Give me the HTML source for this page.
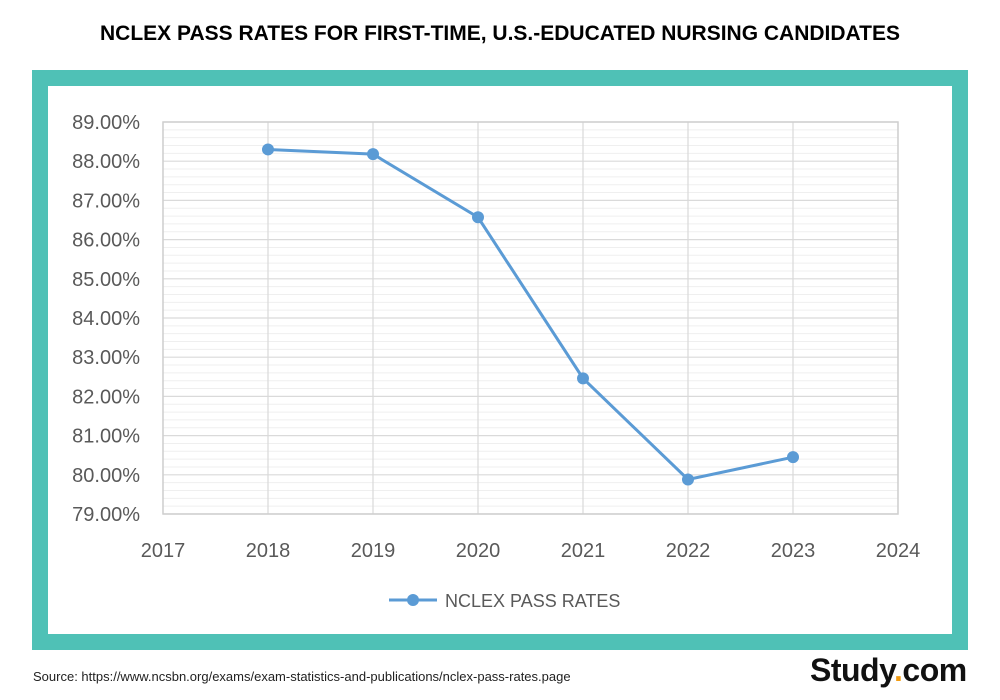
<!DOCTYPE html>
<html><head><meta charset="utf-8"><style>
body{margin:0;width:1000px;height:700px;background:#fff;font-family:"Liberation Sans",sans-serif;position:relative;overflow:hidden}
#title{position:absolute;top:22px;left:0;width:1000px;text-align:center;font-weight:bold;font-size:21px;color:#000}
#frame{position:absolute;left:32px;top:70px;width:904px;height:548px;border:16px solid #4fc1b6;background:#fff}
#src{position:absolute;left:33px;top:669px;font-size:13px;color:#222}
#logo{position:absolute;left:810px;top:652px;font-size:32px;font-weight:bold;color:#111;letter-spacing:-0.5px}
</style></head><body>
<div id="title">NCLEX PASS RATES FOR FIRST-TIME, U.S.-EDUCATED NURSING CANDIDATES</div>
<div id="frame"></div>
<svg id="chart" width="1000" height="700" style="position:absolute;left:0;top:0"></svg>
<div id="src">Source: https://www.ncsbn.org/exams/exam-statistics-and-publications/nclex-pass-rates.page</div>
<div id="logo">Study<span style="color:#f39c12">.</span>com</div>
<script>
const years=[2018,2019,2020,2021,2022,2023];
const rates=[88.3,88.18,86.57,82.46,79.88,80.45];
const yTicks=[79,80,81,82,83,84,85,86,87,88,89];
const xTicks=[2017,2018,2019,2020,2021,2022,2023,2024];
const NS='http://www.w3.org/2000/svg';
const svg=document.getElementById('chart');
const L=163,R=898,T=122,B=514;
const xs=v=>L+(v-2017)/(2024-2017)*(R-L);
const ys=v=>B-(v-79)/(89-79)*(B-T);
function mk(t,a,p){const e=document.createElementNS(NS,t);for(const k in a)e.setAttribute(k,a[k]);(p||svg).appendChild(e);return e;}
for(let k=0;k<=50;k++){const v=79+k*0.2;if(k%5===0)continue;const y=ys(v);
const g=mk('line',{x1:L,x2:R,y1:y,y2:y,stroke:'#efefef','stroke-width':1});

}
yTicks.forEach(v=>{const y=ys(v);
const g=mk('line',{x1:L,x2:R,y1:y,y2:y,stroke:'#dadada','stroke-width':1.2});

});
xTicks.forEach(v=>{const x=xs(v);
const g=mk('line',{x1:x,x2:x,y1:T,y2:B,stroke:'#d9d9d9','stroke-width':1.2});


const t=mk('text',{x:x,y:557,'text-anchor':'middle','font-size':20,fill:'#595959','font-family':'Liberation Sans, sans-serif'});t.textContent=String(v);

});
mk('rect',{x:L,y:T,width:R-L,height:B-T,fill:'none',stroke:'#cfcfcf','stroke-width':1.5});
yTicks.forEach(v=>{const t=mk('text',{x:140,y:ys(v)+7,'text-anchor':'end','font-size':20,fill:'#595959','font-family':'Liberation Sans, sans-serif'});t.textContent=v.toFixed(2)+'%';

});
const pl=mk('polyline',{points:years.map((y,i)=>xs(y)+','+ys(rates[i])).join(' '),fill:'none',stroke:'#5b9bd5','stroke-width':3});


years.forEach((y,i)=>{const c=mk('circle',{cx:xs(y),cy:ys(rates[i]),r:6,fill:'#5b9bd5'});

});
const lg=mk('g',{});


mk('line',{x1:389,x2:437,y1:600,y2:600,stroke:'#5b9bd5','stroke-width':3},lg);
mk('circle',{cx:413,cy:600,r:6,fill:'#5b9bd5'},lg);
const lt=mk('text',{x:445,y:607,'font-size':18,fill:'#595959','font-family':'Liberation Sans, sans-serif'},lg);lt.textContent='NCLEX PASS RATES';
</script>
</body></html>
